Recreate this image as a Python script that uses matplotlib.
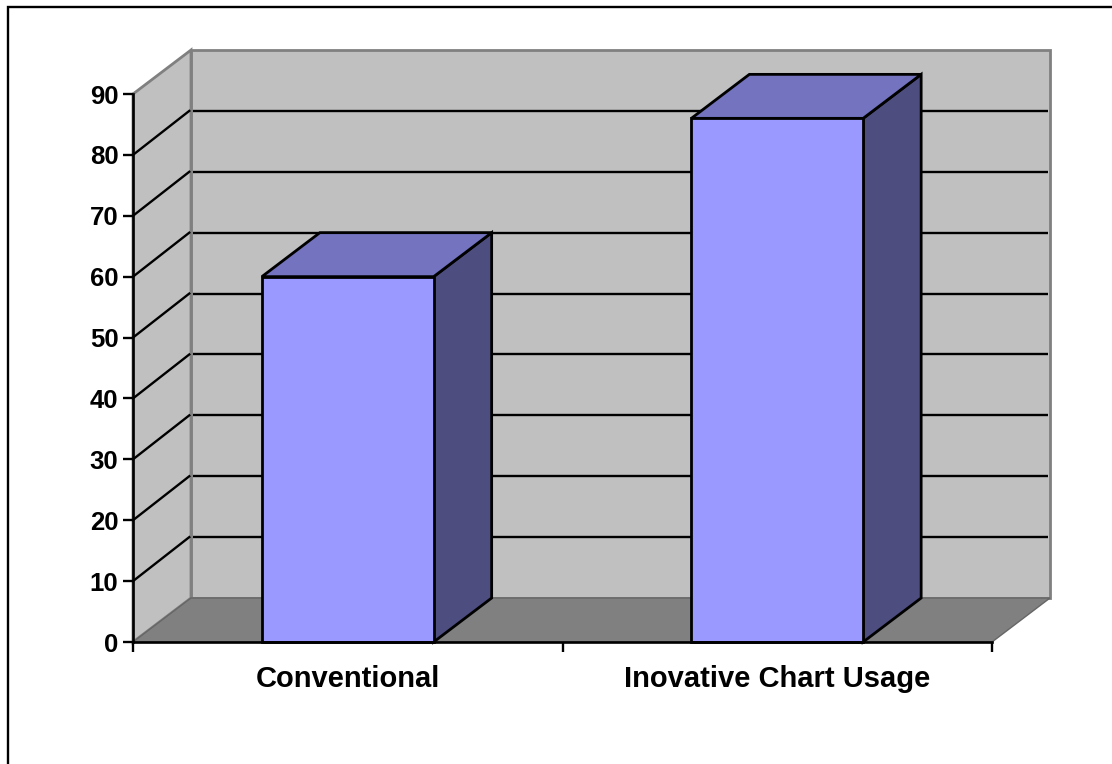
import matplotlib
matplotlib.use("Agg")
import matplotlib.pyplot as plt
from matplotlib.lines import Line2D
from matplotlib.patches import Polygon

categories = ["Conventional", "Inovative Chart Usage"]
values = [60, 86]
y_ticks = [0, 10, 20, 30, 40, 50, 60, 70, 80, 90]

W, H = 1112, 764
BAR_WIDTH = 0.4

# pseudo 3d depth of the box, in data units (2 categories over 859 px, 6.1 px per unit)
DEPTH_X = 58 / 859 * 2
DEPTH_Y = 44 / 6.09

plt.rcParams["font.family"] = ["Liberation Sans", "DejaVu Sans"]
plt.rcParams["font.weight"] = "bold"

fig = plt.figure(figsize=(W / 100, H / 100), dpi=100)
ax = fig.add_axes([133 / W, 1 - 642 / H, 859 / W, 548 / H])
ax.set_xlim(0, len(categories))
ax.set_ylim(0, max(y_ticks))


def face(points, color, edge, lw, z):
    ax.add_patch(Polygon(points, closed=True, facecolor=color, edgecolor=edge,
                         linewidth=lw, joinstyle="miter", clip_on=False, zorder=z))


x_end = len(categories)
y_top = max(y_ticks)

# walls and floor
face([(DEPTH_X, DEPTH_Y), (x_end + DEPTH_X, DEPTH_Y),
      (x_end + DEPTH_X, y_top + DEPTH_Y), (DEPTH_X, y_top + DEPTH_Y)],
     "#c0c0c0", "#808080", 2.0, 1)
face([(0, 0), (DEPTH_X, DEPTH_Y), (DEPTH_X, y_top + DEPTH_Y), (0, y_top)],
     "#c0c0c0", "#808080", 2.0, 1)
face([(0, 0), (x_end, 0), (x_end + DEPTH_X, DEPTH_Y), (DEPTH_X, DEPTH_Y)],
     "#808080", "#666666", 1.0, 1.5)

# gridlines: a slanted piece on the side wall, a flat one on the back wall
for t in y_ticks[1:-1]:
    ax.plot([0, DEPTH_X - 0.004], [t, t + DEPTH_Y], color="black", lw=1.7,
            clip_on=False, zorder=2)
    ax.plot([DEPTH_X + 0.004, x_end + DEPTH_X - 0.004], [t + DEPTH_Y, t + DEPTH_Y],
            color="black", lw=1.7, clip_on=False, zorder=2, solid_capstyle="butt")

# bars: front from ax.bar, top and side faces worked out from the same values
xpos = [i + 0.5 for i in range(len(categories))]
for x, v in zip(xpos, values):
    left = x - BAR_WIDTH / 2
    right = x + BAR_WIDTH / 2
    face([(right, 0), (right + DEPTH_X, DEPTH_Y), (right + DEPTH_X, v + DEPTH_Y), (right, v)],
         "#4d4d80", "black", 2.0, 3)
    face([(left, v), (right, v), (right + DEPTH_X, v + DEPTH_Y), (left + DEPTH_X, v + DEPTH_Y)],
         "#7373bf", "black", 2.0, 3)
ax.bar(xpos, values, width=BAR_WIDTH, color="#9999ff", edgecolor="black",
       linewidth=2.0, zorder=4, clip_on=False)

ax.patch.set_visible(False)
for s in ["top", "right"]:
    ax.spines[s].set_visible(False)
for s in ["left", "bottom"]:
    ax.spines[s].set_linewidth(1.9)
    ax.spines[s].set_zorder(5)

ax.set_yticks(y_ticks)
ax.set_xticks(range(len(categories) + 1))
ax.set_xticklabels([])
ax.set_xticks(xpos, minor=True)
ax.set_xticklabels(categories, minor=True)
ax.tick_params(axis="y", length=7.5, width=1.7, pad=3, labelsize=18.5)
ax.tick_params(axis="x", which="major", length=7.5, width=1.7)
ax.tick_params(axis="x", which="minor", length=0, pad=16.5, labelsize=21)

# outer frame, its right and bottom sides fall off the canvas
fig.add_artist(Line2D([8 / W, 8 / W, 1], [0, 1 - 6.5 / H, 1 - 6.5 / H],
                      color="black", lw=1.7, solid_joinstyle="miter"))

fig.savefig("out.png", dpi=100, facecolor="white")
